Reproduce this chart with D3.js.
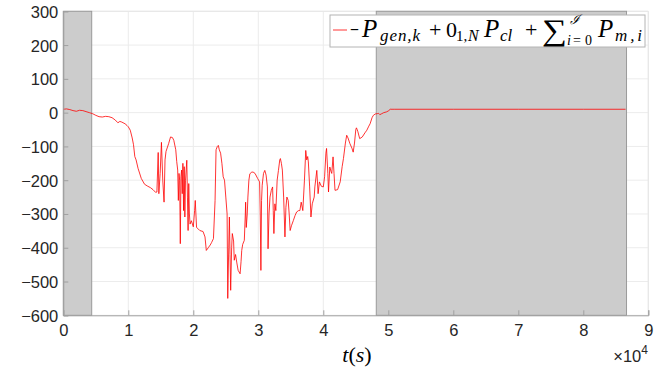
<!DOCTYPE html>
<html>
<head>
<meta charset="utf-8">
<script src="https://cdn.jsdelivr.net/npm/d3@7"></script>
<style>
  body { margin: 0; background: #fff; }
  svg { display: block; }
</style>
</head>
<body>
<svg></svg>
<script>
// time in units of 1e4 s, power value
var tVals = [0,0.05,0.1,0.15,0.2,0.25,0.3,0.35,0.4,0.45,0.5,0.55,0.6,0.65,0.7,0.75,0.8,0.84,0.87,0.9,0.95,0.98,1.0,1.03,1.06,1.08,1.1,1.12,1.15,1.2,1.25,1.3,1.34,1.38,1.42,1.44,1.46,1.47,1.49,1.51,1.53,1.55,1.565,1.58,1.62,1.65,1.68,1.7,1.73,1.745,1.76,1.77,1.78,1.79,1.8,1.81,1.82,1.83,1.84,1.85,1.86,1.87,1.88,1.9,1.91,1.92,1.93,1.94,1.95,1.97,2.0,2.02,2.03,2.05,2.08,2.1,2.15,2.18,2.2,2.23,2.26,2.28,2.31,2.335,2.35,2.37,2.385,2.4,2.42,2.44,2.46,2.48,2.5,2.52,2.53,2.545,2.555,2.565,2.575,2.59,2.6,2.62,2.63,2.65,2.67,2.69,2.72,2.735,2.745,2.76,2.785,2.8,2.805,2.815,2.83,2.84,2.855,2.87,2.9,2.92,2.95,2.99,3.02,3.03,3.04,3.05,3.06,3.08,3.1,3.12,3.14,3.15,3.165,3.18,3.2,3.22,3.23,3.24,3.255,3.27,3.29,3.31,3.33,3.34,3.355,3.37,3.39,3.41,3.425,3.44,3.46,3.475,3.49,3.51,3.54,3.565,3.59,3.62,3.64,3.66,3.685,3.71,3.73,3.745,3.76,3.77,3.79,3.81,3.83,3.86,3.87,3.9,3.92,3.94,3.97,4.0,4.02,4.04,4.05,4.07,4.08,4.1,4.12,4.13,4.15,4.165,4.18,4.22,4.26,4.29,4.31,4.34,4.36,4.38,4.41,4.44,4.46,4.48,4.5,4.51,4.53,4.56,4.6,4.64,4.67,4.7,4.72,4.75,4.77,4.8,4.83,4.85,4.87,4.9,4.93,4.97,5.0,5.03,5.1,6,7,8,8.65];
var pVals = [10,11,9,6,4,7,6,3,0,-3,-8,-12,-13,-11,-12,-15,-22,-30,-26,-28,-33,-38,-42,-52,-75,-95,-130,-140,-165,-195,-212,-218,-222,-228,-236,-235,-118,-240,-180,-88,-200,-265,-140,-115,-92,-72,-74,-82,-110,-145,-170,-260,-180,-200,-388,-190,-170,-240,-150,-290,-160,-309,-200,-141,-250,-349,-210,-300,-330,-320,-338,-290,-260,-340,-345,-349,-352,-368,-408,-400,-392,-385,-373,-260,-110,-100,-97,-110,-120,-150,-190,-200,-250,-300,-550,-400,-309,-420,-526,-400,-358,-380,-437,-420,-445,-467,-477,-440,-408,-390,-378,-300,-265,-340,-300,-250,-200,-181,-176,-176,-180,-195,-205,-300,-467,-260,-215,-180,-171,-185,-220,-403,-300,-250,-230,-220,-290,-358,-270,-290,-200,-171,-140,-136,-150,-170,-250,-368,-280,-250,-260,-300,-349,-335,-319,-305,-294,-290,-290,-265,-290,-200,-112,-140,-130,-146,-220,-309,-270,-250,-220,-171,-240,-205,-218,-220,-190,-120,-106,-180,-235,-161,-175,-180,-131,-180,-230,-228,-205,-160,-136,-90,-67,-75,-92,-105,-117,-90,-50,-45,-55,-77,-72,-60,-52,-40,-33,-15,-8,-4,-3,-2,-6,-3,0,2,5,10,10,10,10,10,10];

// shaded intervals (1e4 s)
var shadeStart = [0, 4.815];
var shadeEnd = [0.437, 8.665];

var xTicks = [0,1,2,3,4,5,6,7,8,9];
var yTicks = [-600,-500,-400,-300,-200,-100,0,100,200,300];

var width = 665, height = 370;
var pL = 63.3, pR = 648.3, pT = 11.3, pB = 315.3;

var svg = d3.select("svg").attr("width", width).attr("height", height);

var x = d3.scaleLinear().domain([0, 9]).range([pL, pR]);
var y = d3.scaleLinear().domain([-600, 300]).range([pB, pT]);

// grid
var grid = svg.append("g");
grid.selectAll(".gx").data(xTicks).enter().append("line")
  .attr("x1", d => x(d)).attr("x2", d => x(d))
  .attr("y1", pT).attr("y2", pB)
  .attr("stroke", "#ececec").attr("stroke-width", 1);
grid.selectAll(".gy").data(yTicks).enter().append("line")
  .attr("x1", pL).attr("x2", pR)
  .attr("y1", d => y(d)).attr("y2", d => y(d))
  .attr("stroke", "#ececec").attr("stroke-width", 1);

// box (light top/right)
svg.append("line").attr("x1", pL).attr("x2", pR).attr("y1", pT).attr("y2", pT)
  .attr("stroke", "#e6e6e6");
svg.append("line").attr("x1", pR).attr("x2", pR).attr("y1", pT).attr("y2", pB)
  .attr("stroke", "#e6e6e6");

// shaded regions
svg.selectAll(".shade").data(shadeStart).enter().append("rect")
  .attr("x", d => x(d))
  .attr("width", (d, i) => x(shadeEnd[i]) - x(d))
  .attr("y", y(300)).attr("height", y(-600) - y(300))
  .attr("fill", "#cccccc").attr("stroke", "#9a9a9a").attr("stroke-width", 1);

// line
var pts = tVals.map((t, i) => [t, pVals[i]]);
var line = d3.line().x(d => x(d[0])).y(d => y(d[1]));
svg.append("path").datum(pts)
  .attr("d", line)
  .attr("fill", "none")
  .attr("stroke", "#ff0000")
  .attr("stroke-width", 0.8)
  .attr("stroke-linejoin", "round");

// axes
var xAxis = d3.axisBottom(x).tickValues(xTicks).tickSize(-5).tickPadding(9).tickFormat(d3.format("d"));
var gx = svg.append("g").attr("transform", "translate(0," + pB + ")").call(xAxis);
var yAxis = d3.axisLeft(y).tickValues(yTicks).tickSize(-5).tickPadding(5).tickFormat(d3.format("d"));
var gy = svg.append("g").attr("transform", "translate(" + pL + ",0)").call(yAxis);
[gx, gy].forEach(function (g) {
  g.select(".domain").attr("stroke", "#a0a0a0");
  g.selectAll(".tick line").attr("stroke", "#a0a0a0");
  g.selectAll(".tick text")
    .attr("fill", "#262626")
    .style("font-family", "'Liberation Sans', Arial, sans-serif")
    .style("font-size", "16.5px");
});
gy.selectAll(".tick text").attr("dy", "0.36em");

// axis label
svg.append("text").attr("x", 357).attr("y", 362)
  .attr("text-anchor", "middle")
  .style("font-family", "'Liberation Serif', 'DejaVu Serif', serif")
  .style("font-size", "22px")
  .html("<tspan font-style='italic'>t</tspan>(<tspan font-style='italic'>s</tspan>)");

// exponent
var ex = svg.append("text").attr("x", 648).attr("y", 362).attr("text-anchor", "end")
  .attr("fill", "#262626")
  .style("font-family", "'Liberation Sans', Arial, sans-serif");
ex.append("tspan").style("font-size", "16.5px").text("\u00d710");
ex.append("tspan").style("font-size", "12px").attr("dy", -8).text("4");

// legend
var lg = svg.append("g");
lg.append("rect").attr("x", 330).attr("y", 15).attr("width", 315).attr("height", 32)
  .attr("fill", "#fff").attr("stroke", "#b4b4b4").attr("stroke-width", 1);
lg.append("line").attr("x1", 333).attr("x2", 347).attr("y1", 30).attr("y2", 30)
  .attr("stroke", "#ff0000").attr("stroke-width", 0.8);

// legend formula pieces: text, x, baseline, size, italic, width (0 = natural), adjust
var pieces = [
  ["\u2212", 350, 37, 22, false, 9, "spacingAndGlyphs"],
  ["P", 362, 37, 25, true, 0],
  ["gen,k", 380, 41, 17, true, 40, "spacing"],
  ["+", 429, 37, 22, false, 0],
  ["0", 446, 37, 22, false, 0],
  ["1,", 456, 41, 15, false, 0],
  ["N", 468, 41, 16, true, 0],
  ["P", 484, 37, 25, true, 0],
  ["cl", 500, 41, 17, true, 0],
  ["+", 525, 37, 22, false, 0],
  ["\u2211", 542, 40, 30, false, 25, "spacingAndGlyphs"],
  ["\u2110", 570, 24, 13, true, 0],
  ["i", 567, 45, 14, true, 0],
  ["=", 573, 45, 14, false, 0],
  ["0", 585, 45, 14, false, 0],
  ["P", 598, 37, 25, true, 0],
  ["m,i", 615, 41, 17, true, 27, "spacing"]
];
pieces.forEach(function (p) {
  var t = lg.append("text").attr("x", p[1]).attr("y", p[2])
    .style("font-family", "'Liberation Serif', 'DejaVu Serif', serif")
    .style("font-size", p[3] + "px")
    .style("font-style", p[4] ? "italic" : "normal")
    .text(p[0]);
  if (p[5]) t.attr("textLength", p[5]).attr("lengthAdjust", p[6]);
});
</script>
</body>
</html>
